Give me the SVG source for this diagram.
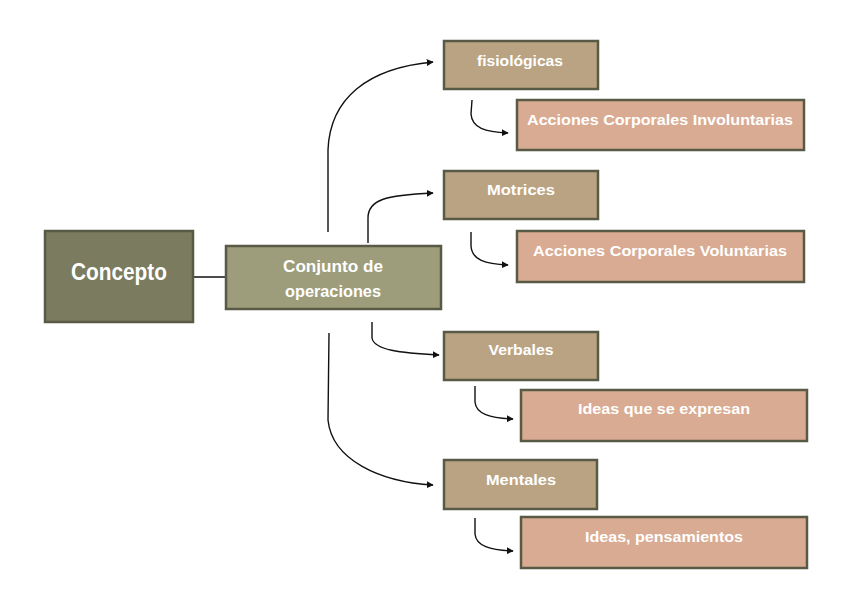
<svg xmlns="http://www.w3.org/2000/svg" width="848" height="599" viewBox="0 0 848 599">
<defs>
<marker id="ah" viewBox="0 0 10 10" refX="9" refY="5" markerWidth="7" markerHeight="7" markerUnits="userSpaceOnUse" orient="auto">
<path d="M0,0 L10,5 L0,10 z" fill="#111"/>
</marker>
<style>
.box{stroke:#585a46;stroke-width:2.5}
.c0{fill:#7a7b5f}
.c1{fill:#9e9d7b}
.c2{fill:#baa383}
.c3{fill:#d9ab92}
text{font-family:"Liberation Sans",Arial,sans-serif;font-weight:bold;fill:#ffffff;text-anchor:middle}
.t{font-size:15px}
.conn path, .conn line{fill:none;stroke:#111;stroke-width:1.4}
.arr{marker-end:url(#ah)}
</style>
</defs>
<rect width="848" height="599" fill="#ffffff"/>
<g class="conn" id="connectors">
<line x1="193" y1="277" x2="226" y2="277"/>
<path class="arr" d="M328,232 L328,150 C330,98 368,68 433,62"/>
<path class="arr" d="M368,243 L368,218 C368,200 385,195 433,193"/>
<path class="arr" d="M372,322 L372,338 C374,350 400,353 439,355"/>
<path class="arr" d="M329,333 L328,420 C332,460 380,482 433,485"/>
<path class="arr" d="M472,100 L471,114 C472,128 485,132 508,133"/>
<path class="arr" d="M471,232 L471,246 C472,260 485,264 508,265"/>
<path class="arr" d="M475,386 L475,402 C476,414 490,418 513,419"/>
<path class="arr" d="M475,518 L475,534 C476,546 490,550 513,551"/>
</g>
<g id="concepto">
<rect class="box c0" x="45" y="231" width="148" height="91"/>
<text x="119" y="280" font-size="23" textLength="96" lengthAdjust="spacingAndGlyphs">Concepto</text>
</g>
<g id="conjunto">
<rect class="box c1" x="226" y="246" width="215" height="63"/>
<text x="333" y="272" font-size="16" textLength="100" lengthAdjust="spacingAndGlyphs">Conjunto de</text>
<text x="333" y="297" font-size="16" textLength="96" lengthAdjust="spacingAndGlyphs">operaciones</text>
</g>
<g id="fisiologicas">
<rect class="box c2" x="444" y="41" width="154" height="48"/>
<text class="t" x="520" y="66" textLength="86" lengthAdjust="spacingAndGlyphs">fisiológicas</text>
</g>
<g id="acc-inv">
<rect class="box c3" x="517" y="100" width="287" height="50"/>
<text class="t" x="660" y="125" textLength="266" lengthAdjust="spacingAndGlyphs">Acciones Corporales Involuntarias</text>
</g>
<g id="motrices">
<rect class="box c2" x="444" y="171" width="154" height="48"/>
<text class="t" x="521" y="195" textLength="68" lengthAdjust="spacingAndGlyphs">Motrices</text>
</g>
<g id="acc-vol">
<rect class="box c3" x="517" y="231" width="287" height="51"/>
<text class="t" x="660" y="256" textLength="254" lengthAdjust="spacingAndGlyphs">Acciones Corporales Voluntarias</text>
</g>
<g id="verbales">
<rect class="box c2" x="444" y="332" width="154" height="48"/>
<text class="t" x="521" y="355" textLength="65" lengthAdjust="spacingAndGlyphs">Verbales</text>
</g>
<g id="ideas-expresan">
<rect class="box c3" x="521" y="390" width="286" height="51"/>
<text class="t" x="664" y="414" textLength="172" lengthAdjust="spacingAndGlyphs">Ideas que se expresan</text>
</g>
<g id="mentales">
<rect class="box c2" x="444" y="460" width="153" height="49"/>
<text class="t" x="521" y="485" textLength="70" lengthAdjust="spacingAndGlyphs">Mentales</text>
</g>
<g id="ideas-pens">
<rect class="box c3" x="521" y="517" width="286" height="51"/>
<text class="t" x="664" y="542" textLength="158" lengthAdjust="spacingAndGlyphs">Ideas, pensamientos</text>
</g>
</svg>
